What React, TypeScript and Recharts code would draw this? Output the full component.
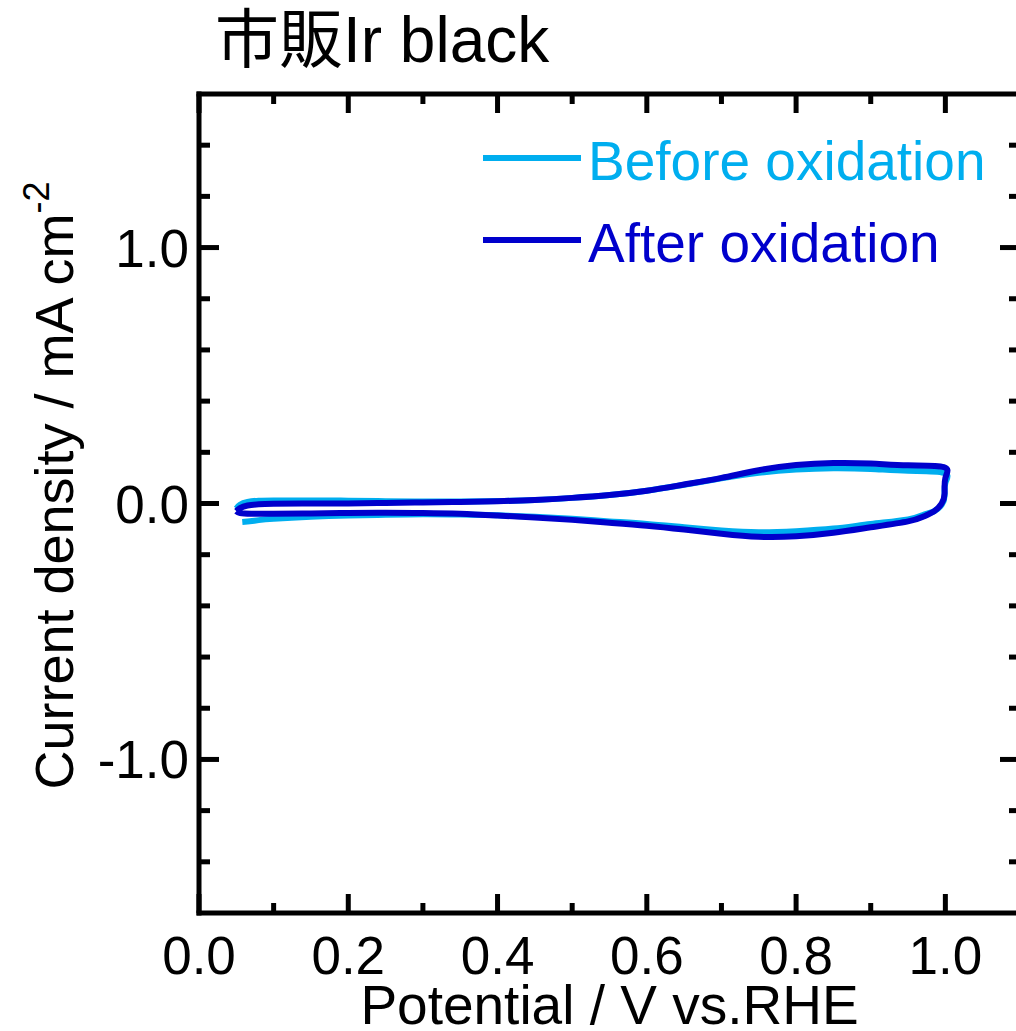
import React from 'react';
import { ComposedChart, Line, XAxis, YAxis, Legend } from 'recharts';

const beforePotential = [
  0.05, 0.055, 0.065, 0.08, 0.1, 0.15, 0.2, 0.25, 0.3, 0.35, 0.4, 0.45, 0.5, 0.55, 0.6, 0.65, 0.7, 0.75,
  0.8, 0.85, 0.9, 0.95, 0.998, 1.0, 0.999, 0.995, 0.985, 0.97, 0.95, 0.9, 0.85, 0.8, 0.75, 0.7, 0.65,
  0.6, 0.55, 0.5, 0.45, 0.4, 0.35, 0.3, 0.25, 0.2, 0.15, 0.1, 0.08, 0.065, 0.058,
];
const beforeCurrent = [
  -0.02, -0.005, 0.006, 0.011, 0.012, 0.012, 0.011, 0.009, 0.008, 0.008, 0.01, 0.014, 0.022, 0.033,
  0.05, 0.073, 0.098, 0.12, 0.133, 0.138, 0.135, 0.128, 0.12, 0.08, 0.03, -0.005, -0.03, -0.045,
  -0.062, -0.08, -0.098, -0.108, -0.112, -0.105, -0.093, -0.08, -0.07, -0.06, -0.052, -0.046, -0.043,
  -0.042, -0.044, -0.047, -0.052, -0.06, -0.065, -0.07, -0.072,
];
const afterPotential = [
  0.05, 0.055, 0.065, 0.08, 0.1, 0.15, 0.2, 0.25, 0.3, 0.35, 0.4, 0.45, 0.5, 0.55, 0.6, 0.65, 0.7, 0.75,
  0.8, 0.85, 0.9, 0.95, 0.998, 1.0, 0.999, 0.995, 0.985, 0.97, 0.95, 0.9, 0.85, 0.8, 0.75, 0.7, 0.65,
  0.6, 0.55, 0.5, 0.45, 0.4, 0.35, 0.3, 0.25, 0.2, 0.15, 0.1, 0.07, 0.055, 0.05,
];
const afterCurrent = [
  -0.03, -0.018, -0.008, -0.003, -0.001, 0.0, 0.0, 0.002, 0.004, 0.006, 0.009, 0.014, 0.022, 0.033,
  0.05, 0.074, 0.1, 0.13, 0.15, 0.158, 0.156, 0.149, 0.142, 0.1, 0.04, 0.0, -0.03, -0.052, -0.07,
  -0.093, -0.114, -0.128, -0.13, -0.118, -0.102, -0.087, -0.075, -0.064, -0.055, -0.047, -0.04, -0.037,
  -0.036, -0.037, -0.039, -0.04, -0.04, -0.037, -0.03,
];

const xTicks = [0, 0.1, 0.2, 0.3, 0.4, 0.5, 0.6, 0.7, 0.8, 0.9, 1.0];
const yTicks = [-1.4, -1.2, -1.0, -0.8, -0.6, -0.4, -0.2, 0, 0.2, 0.4, 0.6, 0.8, 1.0, 1.2, 1.4];

const seriesNames = ['Before oxidation', 'After oxidation'];
const title = '市販Ir black';
const xTitle = 'Potential / V vs.RHE';
const yTitle = 'Current density / mA cm';
const yTitleSup = '-2';

const FONT = '"Liberation Sans", Arial, "Noto Sans CJK JP", sans-serif';
const LIGHT = '#00AEEF';
const DARK = '#0000CC';

const toPoints = (v: number[], j: number[]) => v.map((x, i) => ({ v: x, j: j[i] }));
const beforeData = toPoints(beforePotential, beforeCurrent);
const afterData = toPoints(afterPotential, afterCurrent);

const isMajorX = (v: number) => Math.round(v * 10) % 2 === 0;
const isMajorY = (v: number) => Math.abs(v - Math.round(v)) < 1e-6;

const BottomTick = ({ x, y, payload }: any) => {
  const major = isMajorX(payload.value);
  return (
    <g>
      <line x1={x} x2={x} y1={y} y2={y - (major ? 19 : 10)} stroke="#000" strokeWidth={5} />
      {major && (
        <text x={x} y={y + 61} textAnchor="middle" fontSize={53} fontFamily={FONT} fill="#000">
          {payload.value.toFixed(1)}
        </text>
      )}
    </g>
  );
};

const TopTick = ({ x, y, payload }: any) => {
  const major = isMajorX(payload.value);
  return <line x1={x} x2={x} y1={y} y2={y + (major ? 19 : 10)} stroke="#000" strokeWidth={5} />;
};

const LeftTick = ({ x, y, payload }: any) => {
  const major = isMajorY(payload.value);
  return (
    <g>
      <line x1={x} x2={x + (major ? 20 : 11)} y1={y} y2={y} stroke="#000" strokeWidth={5} />
      {major && (
        <text x={x - 10} y={y + 19} textAnchor="end" fontSize={53} fontFamily={FONT} fill="#000">
          {payload.value.toFixed(1)}
        </text>
      )}
    </g>
  );
};

const RightTick = ({ x, y, payload }: any) => {
  const major = isMajorY(payload.value);
  return <line x1={x} x2={x - (major ? 20 : 11)} y1={y} y2={y} stroke="#000" strokeWidth={5} />;
};

const renderLegend = ({ payload }: any) => {
  const items = [...(payload || [])].sort(
    (a: any, b: any) => seriesNames.indexOf(a.value) - seriesNames.indexOf(b.value),
  );
  return (
    <svg width={540} height={160}>
      {items.map((p: any, i: number) => (
        <g key={p.value}>
          <line x1={13} x2={111} y1={38 + i * 82} y2={38 + i * 82} stroke={p.color} strokeWidth={6} />
          <text x={118} y={60 + i * 82} fontSize={55} fontFamily={FONT} fill={p.color}>
            {p.value}
          </text>
        </g>
      ))}
    </svg>
  );
};

const axisLine = { stroke: '#000', strokeWidth: 5, strokeLinecap: 'square' as const };

export default function App() {
  return (
    <div style={{ position: 'absolute', left: 0, top: 0 }}>
      <ComposedChart width={1016} height={1031} margin={{ top: 93, right: -5, bottom: 0, left: 0 }}>
        <XAxis
          xAxisId="b"
          type="number"
          dataKey="v"
          domain={[0, 1.1]}
          ticks={xTicks}
          interval={0}
          tickSize={0}
          tickMargin={0}
          tickLine={false}
          tick={<BottomTick />}
          axisLine={axisLine}
          height={118}
          allowDataOverflow
          label={({ viewBox }: any) => (
            <text
              x={viewBox.x + viewBox.width / 2}
              y={viewBox.y + 111}
              textAnchor="middle"
              fontSize={55}
              fontFamily={FONT}
              fill="#000"
            >
              {xTitle}
            </text>
          )}
        />
        <XAxis
          xAxisId="t"
          orientation="top"
          type="number"
          dataKey="v"
          domain={[0, 1.1]}
          ticks={xTicks}
          interval={0}
          tickSize={0}
          tickMargin={0}
          tickLine={false}
          tick={<TopTick />}
          axisLine={axisLine}
          height={1}
          allowDataOverflow
          label={() => (
            <text x={215} y={62} fontSize={64} fontFamily={FONT} fill="#000">
              {title}
            </text>
          )}
        />
        <YAxis
          yAxisId="l"
          type="number"
          dataKey="j"
          domain={[-1.6, 1.6]}
          ticks={yTicks}
          interval={0}
          tickSize={0}
          tickMargin={0}
          tickLine={false}
          tick={<LeftTick />}
          axisLine={axisLine}
          width={199}
          allowDataOverflow
          label={({ viewBox }: any) => {
            const cy = viewBox.y + viewBox.height / 2 - 18;
            return (
              <text
                x={73}
                y={cy}
                transform={`rotate(-90, 73, ${cy})`}
                textAnchor="middle"
                fontSize={54}
                fontFamily={FONT}
                fill="#000"
              >
                {yTitle}
                <tspan fontSize={36} dy={-24}>
                  {yTitleSup}
                </tspan>
              </text>
            );
          }}
        />
        <YAxis
          yAxisId="r"
          orientation="right"
          type="number"
          dataKey="j"
          domain={[-1.6, 1.6]}
          ticks={yTicks}
          interval={0}
          tickSize={0}
          tickMargin={0}
          tickLine={false}
          tick={<RightTick />}
          axisLine={axisLine}
          width={1}
          allowDataOverflow
        />
        <Legend
          layout="horizontal"
          verticalAlign="middle"
          align="center"
          content={renderLegend}
          wrapperStyle={{ position: 'absolute', left: 470, top: 120, width: 540, height: 160 }}
        />
        <Line
          xAxisId="b"
          yAxisId="l"
          data={beforeData}
          dataKey="j"
          name={seriesNames[0]}
          type="natural"
          stroke={LIGHT}
          strokeWidth={6}
          dot={false}
          activeDot={false}
          isAnimationActive={false}
        />
        <Line
          xAxisId="b"
          yAxisId="l"
          data={afterData}
          dataKey="j"
          name={seriesNames[1]}
          type="natural"
          stroke={DARK}
          strokeWidth={6}
          dot={false}
          activeDot={false}
          isAnimationActive={false}
        />
      </ComposedChart>
    </div>
  );
}
